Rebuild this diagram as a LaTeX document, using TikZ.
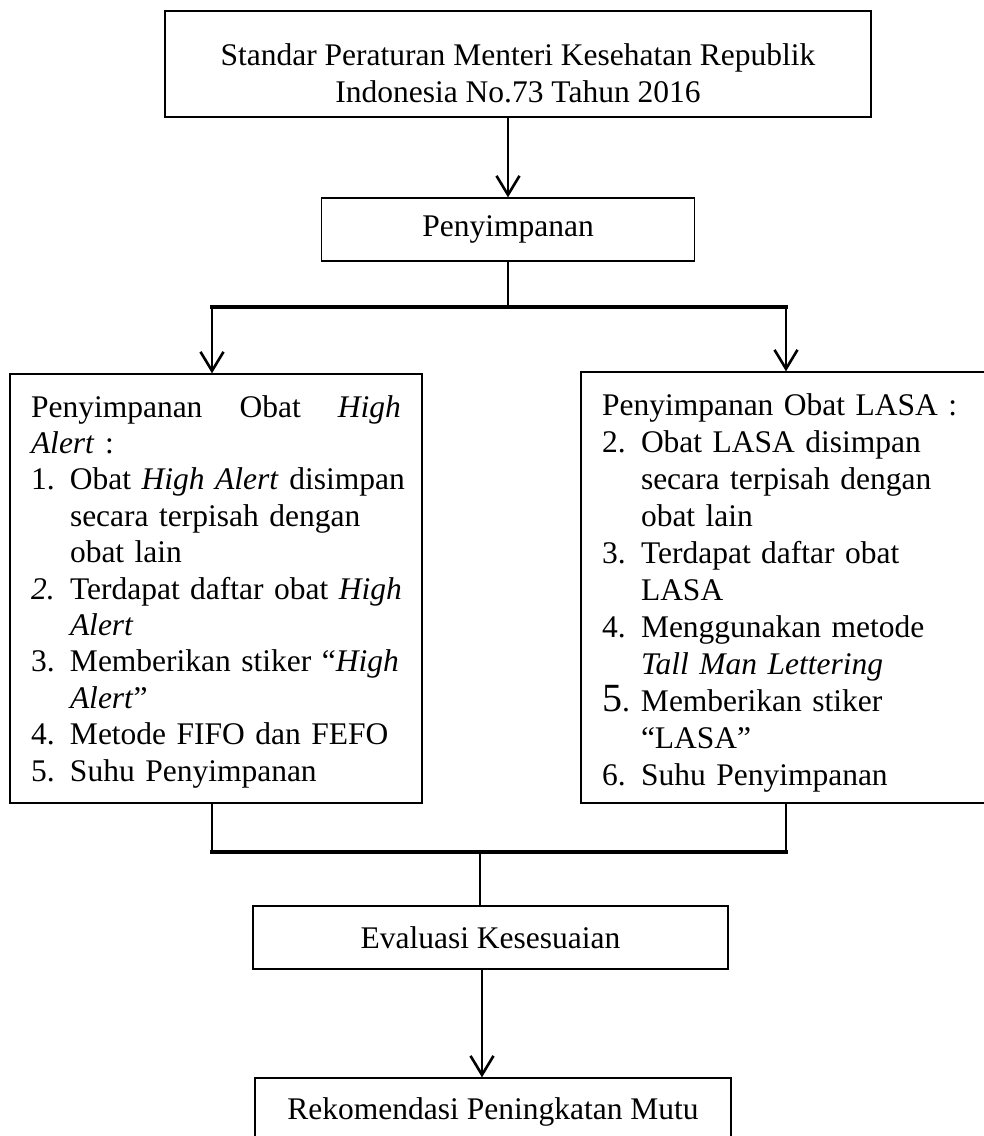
\documentclass[tikz,border=0pt]{standalone}
\usepackage{fontspec}
\setmainfont{Liberation Serif}
\usetikzlibrary{arrows.meta,graphs}
\setlength{\parindent}{0pt}
\hyphenpenalty=10000
\tolerance=10000
\hfuzz=20pt
\newcommand{\numitem}[2]{\par\hangindent=39pt\hangafter=1\noindent\makebox[39pt][l]{#1}#2}
\newcommand{\topstrut}[1]{\rule{0pt}{#1}}
\tikzset{stepbox/.style={
                          % The shape:
                          rectangle,draw=black,line width=1.3pt,
                          inner xsep=21pt,inner ysep=0pt,
                          % The text:
                          font=\fontsize{31.5}{36.4}\selectfont
                          },
         link/.style={line width=2.6pt},
         bar/.style={line width=3.6pt,line cap=rect}}

\begin{document}
\begin{tikzpicture}[x=1pt,y=-1pt,
                    >={Straight Barb[length=19pt,width=23pt]}]
  \useasboundingbox (0,0) rectangle (984,1136);
  % Boxes:
  \node (std) [stepbox,minimum width=706pt,minimum height=106pt,align=center,
               font=\fontsize{31.5}{37}\selectfont] at (518,64)
    {\topstrut{41pt}Standar Peraturan Menteri Kesehatan Republik\\Indonesia No.73 Tahun 2016};
  \node (peny) [stepbox,minimum width=373pt,minimum height=63pt] at (508,229.5) {Penyimpanan};
  \node (alert) [stepbox,text width=370pt,minimum height=429pt] at (216,588.5) {%
    \noindent\topstrut{28pt}Penyimpanan\hfill Obat\hfill \textit{High}\newline
    \textit{Alert} :
    \numitem{1.}{\mbox{Obat \textit{High Alert} disimpan}\newline secara terpisah dengan\newline obat lain}
    \numitem{\textit{2.}}{\mbox{Terdapat daftar obat \textit{High}}\newline\textit{Alert}}
    \numitem{3.}{\mbox{Memberikan stiker ``\textit{High}}\newline\textit{Alert}''}
    \numitem{4.}{Metode FIFO dan FEFO}
    \numitem{5.}{Suhu Penyimpanan}};
  \node (lasa) [stepbox,text width=367pt,minimum height=431pt,
                font=\fontsize{31.5}{37}\selectfont] at (785.5,587.5) {%
    \noindent\topstrut{32pt}Penyimpanan Obat LASA :
    \numitem{2.}{Obat LASA disimpan\newline secara terpisah dengan\newline obat lain}
    \numitem{3.}{Terdapat daftar obat\newline LASA}
    \numitem{4.}{Menggunakan metode\newline\textit{Tall Man Lettering}}
    \numitem{{\fontsize{40}{37}\selectfont 5}.}{Memberikan stiker\newline``LASA''}
    \numitem{6.}{Suhu Penyimpanan}};
  \node (eval) [stepbox,minimum width=475pt,minimum height=63pt] at (490.5,937.5) {Evaluasi Kesesuaian};
  \node (rek) [stepbox,minimum width=476pt,minimum height=67pt] at (493,1111.5) {Rekomendasi Peningkatan Mutu};

  % Bends of the connectors:
  \node (stdOut) [coordinate] at (std.south -| peny) {};
  \node (split) [coordinate] at (508,307) {};
  \node (splitL) [coordinate] at (212,307) {};
  \node (splitR) [coordinate] at (786,307) {};
  \node (alertIn) [coordinate] at (splitL |- alert.north) {};
  \node (lasaIn) [coordinate] at (splitR |- lasa.north) {};
  \node (alertOut) [coordinate] at (splitL |- alert.south) {};
  \node (lasaOut) [coordinate] at (splitR |- lasa.south) {};
  \node (joinL) [coordinate] at (212,852) {};
  \node (joinR) [coordinate] at (786,852) {};
  \node (join) [coordinate] at (480,852) {};
  \node (evalIn) [coordinate] at (join |- eval.north) {};
  \node (evalOut) [coordinate] at (482,969) {};
  \node (rekIn) [coordinate] at (evalOut |- rek.north) {};

  \graph {
    (stdOut) ->[link] (peny);
    (peny) --[link] (split);
    (splitL) --[bar] (split) --[bar] (splitR);
    (splitL) ->[link] (alertIn);
    (splitR) ->[link] (lasaIn);
    (alertOut) --[link] (joinL);
    (lasaOut) --[link] (joinR);
    (joinL) --[bar] (join) --[bar] (joinR);
    (join) --[link] (evalIn);
    (evalOut) ->[link] (rekIn);
  };
\end{tikzpicture}
\end{document}
